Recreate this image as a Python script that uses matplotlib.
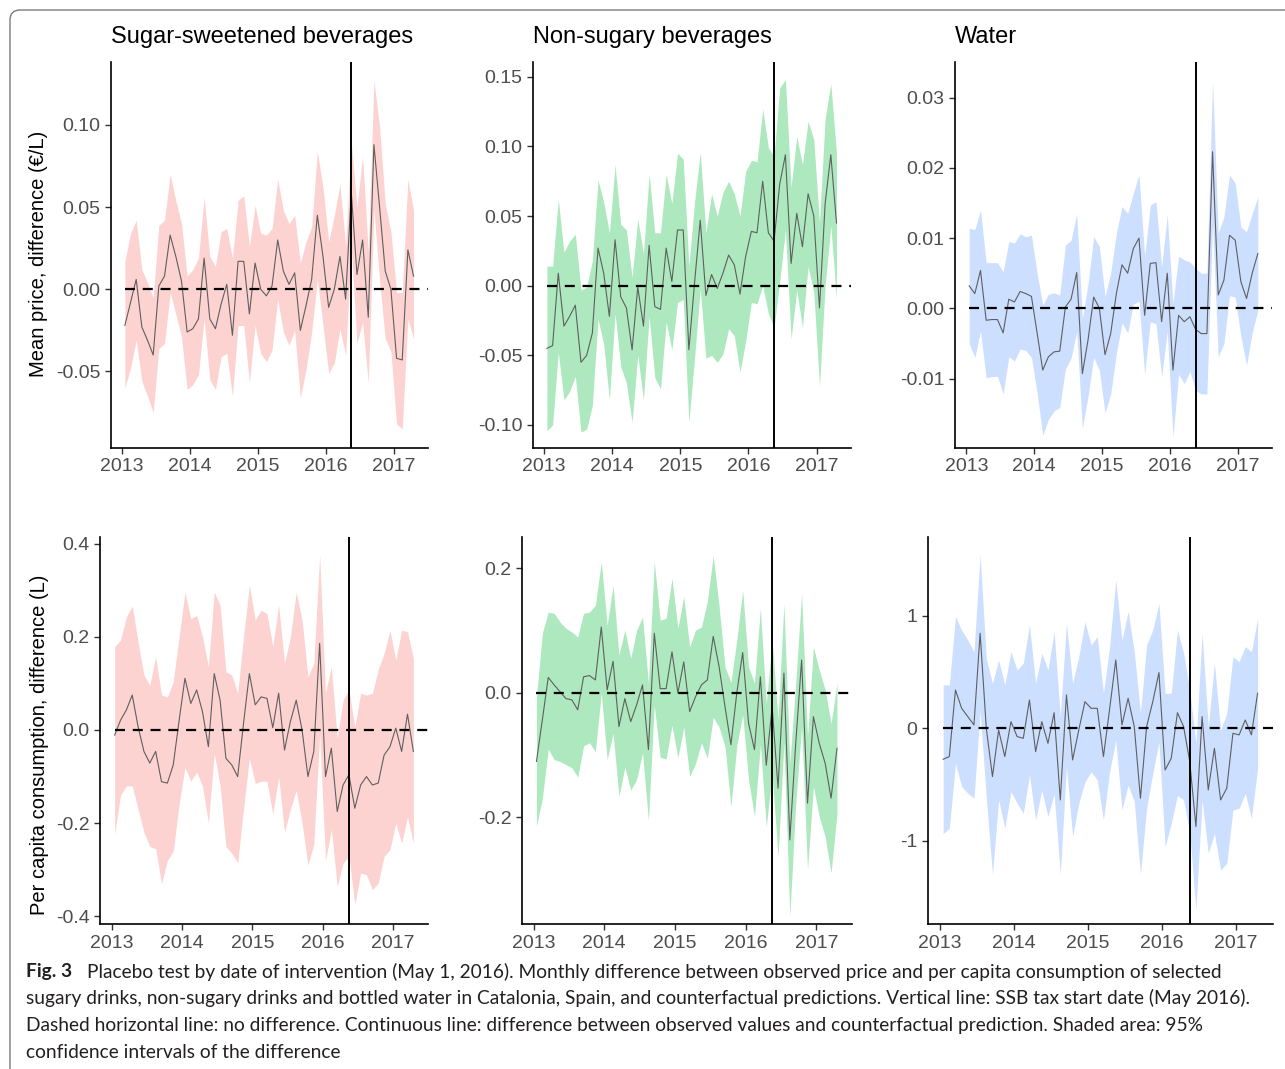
import numpy as np
import matplotlib
matplotlib.use('Agg')
import matplotlib.pyplot as plt
from matplotlib.patches import FancyBboxPatch

plt.rcParams['font.family'] = ['Liberation Sans', 'DejaVu Sans']

W, H = 1285, 1069

# Jan 2013 .. Apr 2017, one value per month (plotted mid-month)
month_idx = np.arange(52)
years = 2013 + (month_idx + 0.5) / 12
tax_start = 2016 + 4.5 / 12
year_ticks = [2013, 2014, 2015, 2016, 2017]

titles = ['Sugar-sweetened beverages', 'Non-sugary beverages', 'Water']
ylabels = ['Mean price, difference (€/L)', 'Per capita consumption, difference (L)']

# --- price, sugar-sweetened
ssb_price = [-0.022, -0.008, 0.006, -0.023, -0.031, -0.040, 0.002, 0.008, 0.033, 0.020,
             0.005, -0.026, -0.024, -0.018, 0.019, -0.018, -0.024, -0.009, 0.003, -0.028,
             0.017, 0.017, -0.015, 0.016, 0.000, -0.004, 0.002, 0.030, 0.011, 0.003,
             0.010, -0.025, -0.010, 0.006, 0.045, 0.020, -0.011, 0.000, 0.020, -0.006,
             0.059, 0.009, 0.030, -0.017, 0.088, 0.050, 0.011, 0.000, -0.042, -0.043,
             0.024, 0.008]
ssb_price_hi = [0.017, 0.034, 0.042, 0.012, 0.004, -0.005, 0.039, 0.042, 0.070, 0.054,
                0.040, 0.008, 0.012, 0.019, 0.056, 0.020, 0.014, 0.035, 0.037, 0.019,
                0.054, 0.057, 0.026, 0.051, 0.034, 0.033, 0.037, 0.067, 0.048, 0.040,
                0.045, 0.016, 0.029, 0.038, 0.084, 0.062, 0.029, 0.045, 0.064, 0.026,
                0.090, 0.050, 0.081, 0.023, 0.127, 0.099, 0.052, 0.035, -0.002, -0.002,
                0.067, 0.048]
ssb_price_lo = [-0.060, -0.048, -0.031, -0.056, -0.065, -0.075, -0.036, -0.033, -0.002, -0.015,
                -0.029, -0.061, -0.058, -0.052, -0.018, -0.055, -0.061, -0.041, -0.039, -0.065,
                -0.022, -0.022, -0.057, -0.022, -0.039, -0.044, -0.037, -0.006, -0.026, -0.034,
                -0.025, -0.066, -0.049, -0.026, 0.006, -0.022, -0.051, -0.045, -0.024, -0.040,
                0.025, -0.033, -0.020, -0.057, 0.049, 0.005, -0.030, -0.038, -0.082, -0.085,
                -0.018, -0.030]

# --- price, non-sugary
nsb_price = [-0.045, -0.043, 0.009, -0.029, -0.022, -0.014, -0.055, -0.050, -0.034, 0.027,
             0.009, -0.022, 0.033, -0.008, -0.016, -0.046, -0.001, -0.029, 0.029, -0.015,
             -0.017, 0.027, 0.003, 0.040, 0.040, -0.046, 0.002, 0.047, -0.007, 0.008,
             -0.002, 0.009, 0.022, 0.015, -0.006, 0.021, 0.039, 0.038, 0.075, 0.038,
             0.032, 0.073, 0.094, 0.016, 0.052, 0.028, 0.066, 0.050, -0.016, 0.059,
             0.094, 0.045]
nsb_price_hi = [0.014, 0.014, 0.062, 0.024, 0.032, 0.037, -0.003, -0.001, 0.018, 0.076,
                0.060, 0.038, 0.087, 0.044, 0.040, 0.006, 0.048, 0.023, 0.080, 0.038,
                0.038, 0.080, 0.059, 0.095, 0.091, 0.014, 0.060, 0.096, 0.038, 0.066,
                0.050, 0.067, 0.075, 0.066, 0.050, 0.082, 0.090, 0.089, 0.127, 0.099,
                0.093, 0.142, 0.148, 0.071, 0.107, 0.087, 0.118, 0.105, 0.045, 0.120,
                0.145, 0.095]
nsb_price_lo = [-0.104, -0.100, -0.048, -0.082, -0.076, -0.065, -0.105, -0.103, -0.086, -0.024,
                -0.042, -0.082, -0.020, -0.058, -0.070, -0.098, -0.050, -0.082, -0.022, -0.066,
                -0.074, -0.026, -0.046, -0.012, -0.010, -0.098, -0.052, -0.002, -0.052, -0.050,
                -0.055, -0.049, -0.031, -0.036, -0.062, -0.040, -0.012, -0.013, 0.000, -0.020,
                -0.030, 0.003, 0.040, -0.038, -0.003, -0.030, 0.014, -0.005, -0.072, 0.000,
                0.043, -0.010]

# --- price, water
wat_price = [0.0032, 0.0021, 0.0054, -0.0017, -0.0016, -0.0016, -0.0035, 0.0013, 0.0009, 0.0024,
             0.0021, 0.0017, -0.0035, -0.0088, -0.0069, -0.0062, -0.0061, 0.0002, 0.0013, 0.0051,
             -0.0093, -0.0045, 0.0016, 0.0000, -0.0066, -0.0036, 0.0021, 0.0062, 0.0050, 0.0085,
             0.0100, -0.0010, 0.0064, 0.0065, -0.0019, 0.0050, -0.0088, -0.0010, -0.0019, -0.0012,
             -0.0030, -0.0036, -0.0036, 0.0223, 0.0019, 0.0040, 0.0104, 0.0097, 0.0038, 0.0014,
             0.0050, 0.0078]
wat_price_hi = [0.0114, 0.0112, 0.0140, 0.0065, 0.0065, 0.0065, 0.0052, 0.0095, 0.0093, 0.0106,
                0.0102, 0.0104, 0.0050, 0.0005, 0.0020, 0.0022, 0.0019, 0.0090, 0.0097, 0.0135,
                -0.0015, 0.0035, 0.0102, 0.0088, 0.0017, 0.0050, 0.0107, 0.0145, 0.0135, 0.0164,
                0.0190, 0.0074, 0.0147, 0.0152, 0.0059, 0.0133, 0.0007, 0.0074, 0.0069, 0.0066,
                0.0057, 0.0050, 0.0050, 0.0325, 0.0107, 0.0130, 0.0190, 0.0178, 0.0116, 0.0109,
                0.0135, 0.0159]
wat_price_lo = [-0.0050, -0.0070, -0.0032, -0.0099, -0.0097, -0.0097, -0.0122, -0.0069, -0.0075, -0.0058,
                -0.0060, -0.0070, -0.0120, -0.0181, -0.0158, -0.0146, -0.0141, -0.0086, -0.0071, -0.0033,
                -0.0171, -0.0125, -0.0070, -0.0088, -0.0149, -0.0122, -0.0065, -0.0021, -0.0035, 0.0006,
                0.0010, -0.0094, -0.0019, -0.0022, -0.0097, -0.0033, -0.0183, -0.0094, -0.0107, -0.0090,
                -0.0117, -0.0122, -0.0122, 0.0121, -0.0069, -0.0050, 0.0018, 0.0016, -0.0040, -0.0081,
                -0.0035, -0.0003]

# --- consumption, sugar-sweetened
ssb_cons = [-0.011, 0.021, 0.043, 0.075, 0.007, -0.046, -0.071, -0.046, -0.111, -0.114,
            -0.075, 0.020, 0.111, 0.057, 0.086, 0.039, -0.036, 0.121, 0.064, -0.061,
            -0.075, -0.100, 0.014, 0.121, 0.054, 0.071, 0.068, 0.005, 0.079, -0.043,
            0.018, 0.064, 0.000, -0.100, -0.046, 0.186, -0.100, -0.039, -0.175, -0.118,
            -0.096, -0.168, -0.118, -0.100, -0.118, -0.114, -0.054, -0.036, 0.004, -0.046,
            0.034, -0.046]
ssb_cons_hi = [0.179, 0.193, 0.243, 0.266, 0.189, 0.118, 0.096, 0.157, 0.075, 0.071,
               0.104, 0.200, 0.296, 0.239, 0.246, 0.200, 0.136, 0.296, 0.268, 0.125,
               0.118, 0.079, 0.200, 0.311, 0.236, 0.257, 0.250, 0.180, 0.268, 0.143,
               0.200, 0.296, 0.236, 0.114, 0.143, 0.375, 0.080, 0.136, -0.018, 0.064,
               0.086, 0.007, 0.079, 0.075, 0.079, 0.130, 0.164, 0.214, 0.150, 0.214,
               0.211, 0.154]
ssb_cons_lo = [-0.225, -0.140, -0.120, -0.120, -0.170, -0.220, -0.250, -0.255, -0.330, -0.280,
               -0.260, -0.160, -0.080, -0.110, -0.090, -0.120, -0.200, -0.050, -0.120, -0.250,
               -0.265, -0.285, -0.170, -0.060, -0.115, -0.110, -0.110, -0.180, -0.100, -0.220,
               -0.170, -0.130, -0.200, -0.290, -0.245, -0.010, -0.280, -0.214, -0.336, -0.286,
               -0.271, -0.375, -0.307, -0.311, -0.343, -0.329, -0.271, -0.257, -0.200, -0.243,
               -0.186, -0.243]

# --- consumption, non-sugary
nsb_cons = [-0.110, -0.043, 0.025, 0.013, 0.002, -0.009, -0.011, -0.027, 0.026, 0.028,
            0.021, 0.106, 0.005, 0.051, -0.054, -0.009, -0.046, -0.019, 0.013, -0.091,
            0.096, 0.007, 0.007, 0.066, 0.000, 0.050, -0.030, -0.006, 0.013, 0.021,
            0.091, 0.042, -0.022, -0.083, 0.000, 0.065, -0.049, -0.091, 0.026, -0.116,
            -0.022, -0.153, 0.032, -0.236, -0.081, 0.053, -0.177, -0.038, -0.081, -0.113,
            -0.169, -0.089]
nsb_cons_hi = [-0.006, 0.096, 0.130, 0.128, 0.114, 0.104, 0.098, 0.090, 0.128, 0.130,
               0.141, 0.211, 0.109, 0.173, 0.061, 0.101, 0.056, 0.101, 0.122, 0.016,
               0.211, 0.117, 0.120, 0.184, 0.104, 0.155, 0.074, 0.101, 0.106, 0.147,
               0.221, 0.139, 0.042, 0.017, 0.085, 0.165, 0.042, 0.016, 0.136, -0.017,
               0.085, -0.043, 0.144, -0.113, 0.016, 0.160, -0.070, 0.074, 0.037, 0.005,
               -0.049, 0.016]
nsb_cons_lo = [-0.214, -0.170, -0.090, -0.107, -0.110, -0.115, -0.120, -0.135, -0.085, -0.080,
               -0.094, 0.000, -0.107, -0.065, -0.166, -0.119, -0.156, -0.139, -0.096, -0.205,
               -0.020, -0.103, -0.106, -0.052, -0.104, -0.055, -0.134, -0.113, -0.080, -0.105,
               -0.039, -0.055, -0.086, -0.183, -0.085, -0.035, -0.140, -0.198, -0.084, -0.215,
               -0.129, -0.263, -0.080, -0.359, -0.178, -0.054, -0.284, -0.150, -0.199, -0.231,
               -0.289, -0.194]

# --- consumption, water
wat_cons = [-0.276, -0.252, 0.341, 0.178, 0.104, 0.030, 0.846, 0.000, -0.430, -0.015,
            -0.252, 0.059, -0.074, -0.089, 0.252, -0.208, 0.059, -0.134, 0.139, -0.638,
            0.297, -0.282, -0.015, 0.237, 0.178, 0.178, -0.252, 0.170, 0.608, 0.030,
            0.267, 0.015, -0.623, 0.015, 0.237, 0.496, -0.371, -0.267, 0.139, 0.015,
            -0.297, -0.875, 0.104, -0.549, -0.178, -0.638, -0.534, -0.045, -0.059, 0.074,
            -0.059, 0.312]
wat_cons_hi = [0.386, 0.386, 0.994, 0.875, 0.786, 0.682, 1.543, 0.620, 0.401, 0.608,
               0.386, 0.682, 0.519, 0.579, 0.920, 0.401, 0.668, 0.519, 0.861, 0.104,
               0.935, 0.401, 0.638, 0.950, 0.742, 0.816, 0.312, 0.727, 1.320, 0.786,
               1.040, 0.682, 0.134, 0.742, 0.875, 1.113, 0.312, 0.312, 0.875, 0.668,
               0.341, -0.134, 0.846, 0.015, 0.579, -0.015, 0.134, 0.638, 0.593, 0.727,
               0.682, 0.979]
wat_cons_lo = [-0.938, -0.890, -0.312, -0.519, -0.578, -0.622, 0.149, -0.620, -1.300, -0.638,
               -0.890, -0.564, -0.667, -0.757, -0.416, -0.817, -0.550, -0.787, -0.583, -1.300,
               -0.341, -0.965, -0.668, -0.476, -0.386, -0.460, -0.816, -0.387, -0.104, -0.726,
               -0.506, -0.652, -1.300, -0.712, -0.401, -0.121, -1.054, -0.846, -0.597, -0.638,
               -0.935, -1.616, -0.638, -1.113, -0.935, -1.261, -1.202, -0.728, -0.711, -0.579,
               -0.800, -0.355]

ribbon_colors = ['#F8766D', '#00BA38', '#619CFF']

# (series, lo, hi, pixel box left/right/top/bottom, ylim, yticks, ytick labels)
panels = [
    (ssb_price, ssb_price_lo, ssb_price_hi, (110.7, 427.7, 62, 447.7), (-0.0964, 0.1383),
     [-0.05, 0.0, 0.05, 0.10], ['-0.05', '0.00', '0.05', '0.10']),
    (nsb_price, nsb_price_lo, nsb_price_hi, (532.7, 850.7, 62, 447.7), (-0.1163, 0.1606),
     [-0.10, -0.05, 0.0, 0.05, 0.10, 0.15], ['-0.10', '-0.05', '0.00', '0.05', '0.10', '0.15']),
    (wat_price, wat_price_lo, wat_price_hi, (955, 1272, 62, 447.7), (-0.01985, 0.03508),
     [-0.01, 0.0, 0.01, 0.02, 0.03], ['-0.01', '0.00', '0.01', '0.02', '0.03']),
    (ssb_cons, ssb_cons_lo, ssb_cons_hi, (100, 428, 537, 924.3), (-0.4171, 0.4143),
     [-0.4, -0.2, 0.0, 0.2, 0.4], ['-0.4', '-0.2', '0.0', '0.2', '0.4']),
    (nsb_cons, nsb_cons_lo, nsb_cons_hi, (521.7, 851.7, 537, 924.3), (-0.3716, 0.2506),
     [-0.2, 0.0, 0.2], ['-0.2', '0.0', '0.2']),
    (wat_cons, wat_cons_lo, wat_cons_hi, (927.7, 1273, 537, 924.3), (-1.745, 1.703),
     [-1, 0, 1], ['-1', '0', '1']),
]

fig = plt.figure(figsize=(W / 100, H / 100), dpi=100)

for k, (mean, lo, hi, box, ylim, yt, ytl) in enumerate(panels):
    l, r, t, b = box
    ax = fig.add_axes([l / W, 1 - b / H, (r - l) / W, (b - t) / H])
    col = ribbon_colors[k % 3]
    ax.fill_between(years, lo, hi, color=col, alpha=0.32, linewidth=0)
    ax.plot(years, mean, color='#5f5f5f', linewidth=0.8)
    ax.plot([years[0], 2017.5], [0, 0], color='black', linewidth=1.6,
            dashes=(4.5, 3.5))
    ax.axvline(tax_start, color='black', linewidth=1.4)
    ax.set_xlim(2012.833, 2017.5)
    ax.set_ylim(*ylim)
    ax.set_xticks(year_ticks)
    ax.set_xticklabels([str(y) for y in year_ticks])
    ax.set_yticks(yt)
    ax.set_yticklabels(ytl)
    for s in ['top', 'right']:
        ax.spines[s].set_visible(False)
    for s in ['left', 'bottom']:
        ax.spines[s].set_linewidth(1.2)
        ax.spines[s].set_color('black')
    ax.tick_params(length=4.5, width=1, color='#333333', labelsize=14,
                   labelcolor='#4d4d4d', pad=3)
    ax.patch.set_alpha(0)
    if k < 3:
        fig.text(l / W, 1 - 37 / H, titles[k], fontsize=17, ha='left', va='center')

fig.text(39 / W, 1 - 254 / H, ylabels[0], fontsize=14.5, rotation=90,
         ha='center', va='center')
fig.text(40 / W, 1 - 745 / H, ylabels[1], fontsize=14.5, rotation=90,
         ha='center', va='center')

# frame round the figure (continues past the right and bottom edges)
frame = FancyBboxPatch((10, -60), 1400, H - 10 + 60,
                       boxstyle='round,pad=0,rounding_size=10',
                       facecolor='none', edgecolor='#7a7a7a', linewidth=1.0,
                       transform=None)
fig.add_artist(frame)

cap_font = ['Lato', 'DejaVu Sans']
cap_color = '#231f20'
cap_lines = [
    'Placebo test by date of intervention (May 1, 2016). Monthly difference between observed price and per capita consumption of selected',
    'sugary drinks, non-sugary drinks and bottled water in Catalonia, Spain, and counterfactual predictions. Vertical line: SSB tax start date (May 2016).',
    'Dashed horizontal line: no difference. Continuous line: difference between observed values and counterfactual prediction. Shaded area: 95%',
    'confidence intervals of the difference',
]
cap_y = [972, 998, 1025, 1052]
cap_x = [87, 26, 26, 26]

fig_lbl = fig.text(26 / W, 1 - cap_y[0] / H, 'Fig. 3', fontsize=13, fontweight='bold',
                   family=cap_font, color=cap_color, ha='left', va='center')
cap_texts = []
for s, y, x in zip(cap_lines, cap_y, cap_x):
    cap_texts.append(fig.text(x / W, 1 - y / H, s, fontsize=13, family=cap_font,
                              color=cap_color, ha='left', va='center'))

# size the caption so the second line spans the same width as in the original
fig.canvas.draw()
rend = fig.canvas.get_renderer()
w2 = cap_texts[1].get_window_extent(rend).width
fs = 13 * (1245 - 26) / w2
for t in cap_texts:
    t.set_fontsize(fs)
fig_lbl.set_fontsize(fs)

fig.savefig('out.png', dpi=100)
